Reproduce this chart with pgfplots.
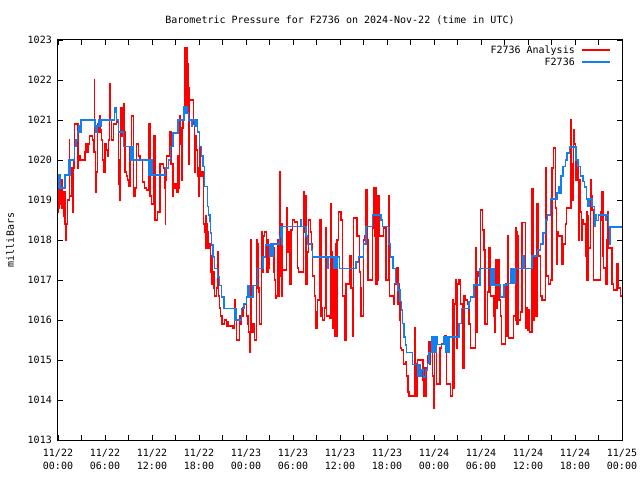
\documentclass[border=0pt]{standalone}
\usepackage{pgfplots}
\pgfplotsset{compat=1.18}
\usepackage{fontspec}
\setmainfont{DejaVu Sans Mono}
\setmonofont{DejaVu Sans Mono}
\definecolor{gpred}{RGB}{255,0,0}
\definecolor{gpblue}{RGB}{16,128,240}
\begin{document}
\begin{tikzpicture}
\path[use as bounding box] (0,0) rectangle (640pt,480pt);
\begin{axis}[
  at={(58pt,40pt)}, anchor=south west,
  width=564pt, height=400pt, scale only axis,
  xmin=0, xmax=72, ymin=1013, ymax=1023,
  font=\fontsize{10}{12}\selectfont,
  axis line style={line width=1pt},
  tick style={black, line width=0.8pt},
  major tick length=5pt, minor tick length=5pt,
  xtick={0,6,...,72}, minor xtick={3,9,...,69},
  xticklabels={{11/22\\00:00},{11/22\\06:00},{11/22\\12:00},{11/22\\18:00},{11/23\\00:00},{11/23\\06:00},{11/23\\12:00},{11/23\\18:00},{11/24\\00:00},{11/24\\06:00},{11/24\\12:00},{11/24\\18:00},{11/25\\00:00}},
  xticklabel style={align=center, inner sep=0pt, yshift=-9pt, font=\fontsize{10}{13}\selectfont},
  ytick={1013,1014,1015,1016,1017,1018,1019,1020,1021,1022,1023},
  yticklabels={1013,1014,1015,1016,1017,1018,1019,1020,1021,1022,1023},
  yticklabel style={inner sep=0pt, xshift=-6pt},
  title={Barometric Pressure for F2736 on 2024-Nov-22 (time in UTC)},
  title style={at={(axis description cs:0.5,1.035)}, anchor=center, inner sep=0pt},
  ylabel={milliBars},
  every axis y label/.style={at={(axis description cs:-0.0851,0.5)}, rotate=90, anchor=center},
]
\addplot[const plot, color=gpred, line width=1.4pt] coordinates {
(0.0,1018.7) (0.1,1019.6) (0.15,1018.8) (0.2,1019.6) (0.3,1018.9) (0.4,1019.5) (0.5,1018.8) (0.6,1019.2)
(0.7,1018.6) (0.8,1019.2) (0.9,1018.4) (1.0,1018.0) (1.1,1018.4) (1.2,1019.0) (1.45,1020.5) (1.5,1019.1)
(1.8,1019.8) (1.9,1018.7) (1.95,1019.8) (2.05,1020.0) (2.1,1020.9) (2.55,1019.8) (2.6,1020.1) (2.8,1020.0)
(3.45,1020.2) (3.6,1020.4) (3.7,1020.2) (3.85,1020.4) (4.0,1020.6) (4.4,1020.5) (4.55,1020.2) (4.64,1022.0)
(4.68,1020.2) (4.75,1019.2) (4.85,1019.7) (5.06,1020.9) (5.25,1020.7) (5.36,1021.1) (5.45,1020.75) (5.57,1020.5)
(5.7,1020.0) (5.8,1019.7) (6.0,1020.4) (6.15,1020.25) (6.3,1020.1) (6.45,1020.5) (6.55,1021.9) (6.6,1021.0)
(6.65,1021.9) (6.7,1021.0) (6.8,1020.5) (7.06,1020.9) (7.5,1020.95) (7.7,1020.0) (7.8,1019.4) (7.9,1019.0)
(8.0,1021.3) (8.1,1020.6) (8.2,1021.3) (8.3,1020.6) (8.4,1021.4) (8.5,1020.7) (8.55,1019.7) (8.77,1019.6)
(8.9,1019.5) (9.0,1019.35) (9.2,1020.3) (9.4,1021.1) (9.65,1019.1) (9.85,1019.3) (10.04,1020.4) (10.26,1020.1)
(10.47,1020.0) (10.77,1019.45) (11.02,1019.3) (11.32,1019.25) (11.53,1020.9) (11.6,1020.1) (11.65,1020.9) (11.74,1019.1)
(11.96,1018.9) (12.26,1020.6) (12.3,1018.6) (12.35,1020.6) (12.4,1018.5) (12.68,1018.7) (13.0,1019.9) (13.45,1019.8)
(13.66,1019.3) (13.7,1018.4) (13.75,1019.5) (13.87,1020.1) (14.3,1020.7) (14.45,1019.9) (14.68,1019.1) (14.76,1019.4)
(14.9,1019.3) (15.0,1019.4) (15.15,1019.2) (15.32,1020.1) (15.4,1019.3) (15.53,1021.1) (15.66,1020.4) (15.75,1019.5)
(15.85,1020.8) (15.95,1021.0) (16.17,1021.3) (16.22,1022.8) (16.3,1021.4) (16.38,1022.8) (16.45,1021.3) (16.52,1022.4)
(16.59,1021.8) (16.7,1019.9) (16.81,1021.5) (17.23,1021.5) (17.3,1020.9) (17.36,1021.0) (17.45,1019.7) (17.55,1020.6)
(17.66,1020.25) (17.8,1019.8) (17.87,1019.6) (17.95,1019.1) (18.08,1020.3) (18.2,1019.6) (18.3,1019.7) (18.51,1019.6)
(18.6,1018.4) (18.72,1018.2) (18.8,1018.6) (18.9,1017.8) (19.0,1018.4) (19.06,1018.2) (19.2,1017.8) (19.36,1017.9)
(19.45,1017.2) (19.57,1017.6) (19.65,1016.9) (19.79,1017.2) (19.9,1016.8) (20.0,1016.6) (20.21,1016.8) (20.42,1017.7)
(20.45,1016.8) (20.51,1016.6) (20.6,1016.3) (20.76,1016.1) (20.93,1015.9) (21.27,1016.0) (21.49,1015.85) (21.6,1015.95)
(21.7,1015.85) (22.34,1015.8) (22.55,1016.5) (22.65,1016.0) (22.76,1015.5) (23.19,1016.1) (23.3,1015.9) (23.4,1016.1)
(23.61,1016.3) (23.83,1016.4) (24.05,1016.1) (24.25,1015.9) (24.35,1015.7) (24.47,1015.2) (24.55,1018.0) (24.62,1016.5)
(24.68,1015.7) (24.89,1015.9) (25.1,1015.5) (25.32,1018.0) (25.4,1017.9) (25.53,1016.8) (25.65,1016.7) (25.74,1015.9)
(25.95,1018.2) (26.1,1017.2) (26.25,1018.1) (26.38,1018.2) (26.6,1017.8) (26.7,1017.2) (26.81,1018.0) (26.9,1017.3)
(27.02,1017.8) (27.45,1017.8) (27.55,1017.2) (27.66,1017.0) (27.75,1016.55) (27.87,1016.6) (28.0,1018.0) (28.09,1016.6)
(28.2,1017.8) (28.34,1019.7) (28.4,1017.1) (28.51,1018.4) (28.6,1016.6) (28.68,1017.25) (29.11,1017.25) (29.15,1018.8)
(29.3,1017.7) (29.41,1018.2) (29.5,1017.7) (29.58,1016.9) (29.75,1018.25) (29.96,1018.5) (30.17,1018.45) (30.55,1017.3)
(30.68,1017.2) (31.36,1019.2) (31.45,1018.2) (31.55,1019.1) (31.66,1016.9) (31.79,1017.7) (31.96,1018.5) (32.21,1018.2)
(32.38,1017.9) (32.51,1017.1) (32.72,1016.6) (32.85,1016.2) (32.94,1015.8) (33.15,1016.5) (33.36,1018.5) (33.58,1016.1)
(33.7,1016.3) (33.79,1016.0) (34.0,1016.3) (34.21,1018.3) (34.3,1016.1) (34.64,1016.05) (34.85,1018.9) (34.95,1017.7)
(35.07,1015.8) (35.15,1017.4) (35.28,1015.6) (35.4,1017.9) (35.49,1015.6) (35.6,1018.0) (35.79,1018.7) (36.13,1018.5)
(36.34,1016.6) (36.56,1015.5) (36.77,1016.9) (37.3,1017.6) (37.4,1016.8) (37.62,1015.6) (37.75,1018.55) (38.17,1018.1)
(38.47,1017.2) (38.6,1016.8) (38.68,1016.1) (39.02,1018.0) (39.2,1018.1) (39.32,1019.25) (39.45,1018.0) (39.55,1017.0)
(40.17,1018.3) (40.3,1019.3) (40.39,1018.1) (40.5,1019.3) (40.6,1016.9) (40.75,1019.1) (40.85,1017.0) (40.95,1019.1)
(41.02,1018.1) (41.58,1018.3) (41.87,1017.0) (42.17,1019.1) (42.3,1018.0) (42.34,1016.6) (42.85,1016.4) (42.94,1016.9)
(43.3,1017.3) (43.4,1016.4) (43.5,1016.9) (43.6,1016.5) (43.67,1016.0) (43.75,1015.3) (43.84,1015.25) (44.09,1014.9)
(44.39,1014.95) (44.5,1014.6) (44.7,1014.2) (44.81,1014.1) (45.54,1014.1) (45.58,1015.8) (45.63,1014.1) (45.71,1014.9)
(45.8,1014.1) (45.88,1015.0) (46.52,1015.0) (46.6,1014.5) (46.7,1014.1) (46.81,1014.8) (46.9,1014.1) (46.99,1014.8)
(47.16,1015.1) (47.37,1015.45) (47.5,1014.9) (47.58,1015.25) (47.79,1014.6) (47.92,1013.8) (48.09,1015.4) (48.35,1014.4)
(48.77,1015.3) (48.94,1015.4) (49.2,1015.5) (49.41,1015.6) (49.62,1014.4) (50.13,1014.1) (50.35,1016.5) (50.5,1014.3)
(50.56,1016.4) (50.77,1017.0) (50.9,1015.3) (50.99,1016.9) (51.2,1017.0) (51.41,1016.4) (51.62,1014.8) (51.84,1016.6)
(52.05,1016.5) (52.26,1016.4) (52.47,1015.9) (52.69,1015.3) (53.33,1017.8) (53.45,1015.7) (53.54,1017.2) (53.75,1017.1)
(53.96,1018.75) (54.18,1018.25) (54.39,1017.75) (54.5,1015.9) (54.81,1016.7) (55.03,1017.8) (55.1,1016.9) (55.17,1017.8)
(55.24,1016.6) (55.67,1016.1) (55.8,1015.7) (55.88,1017.5) (56.0,1016.3) (56.09,1017.5) (56.3,1016.5) (56.52,1016.1)
(56.6,1015.4) (57.16,1016.9) (57.25,1015.6) (57.37,1018.0) (57.42,1015.7) (57.47,1018.1) (57.53,1015.55) (58.17,1016.1)
(58.38,1018.3) (58.45,1016.0) (58.52,1018.2) (58.6,1015.9) (58.7,1018.1) (58.81,1016.0) (59.02,1016.2) (59.23,1018.43)
(59.66,1016.3) (59.72,1015.8) (59.79,1016.3) (59.96,1015.75) (60.09,1016.25) (60.2,1015.7) (60.51,1019.27) (60.64,1016.0)
(60.8,1017.6) (60.94,1016.1) (61.15,1018.9) (61.3,1017.6) (61.58,1016.6) (61.79,1016.5) (62.21,1019.8) (62.3,1017.1)
(62.64,1016.9) (62.85,1017.0) (63.06,1019.8) (63.28,1020.3) (63.49,1018.8) (63.6,1017.4) (63.7,1018.2) (63.92,1018.1)
(64.34,1017.4) (64.55,1017.9) (64.77,1018.4) (64.89,1018.8) (65.49,1021.0) (65.55,1019.9) (65.62,1019.0) (65.83,1020.75)
(65.9,1020.4) (66.04,1020.0) (66.15,1019.5) (66.26,1020.0) (66.47,1018.0) (66.6,1019.5) (66.68,1018.7) (66.8,1018.0)
(66.89,1018.5) (67.11,1018.4) (67.32,1017.6) (67.45,1018.7) (67.53,1017.0) (67.65,1018.6) (67.75,1017.8) (67.96,1019.5)
(68.1,1019.1) (68.17,1018.75) (68.38,1017.0) (69.23,1018.7) (69.35,1018.5) (69.45,1019.2) (69.55,1017.6) (69.66,1017.3)
(69.87,1016.9) (70.09,1018.0) (70.2,1018.7) (70.3,1017.8) (70.72,1016.9) (70.94,1016.75) (71.36,1017.4) (71.57,1016.8)
(71.79,1016.6) (72.0,1016.6)
};
\addplot[const plot, color=gpblue, line width=1.4pt] coordinates {
(0,1019.62) (0.15,1019.3) (0.25,1019.62) (0.34,1019.3) (0.9,1019.62) (1.35,1020.0) (1.45,1019.62) (1.53,1020.0)
(2.1,1020.33) (2.3,1020.5) (2.47,1020.7) (2.6,1020.85) (2.68,1020.7) (2.94,1021.0) (4.72,1020.85) (4.85,1020.7)
(5.0,1020.85) (5.15,1021.0) (5.3,1020.85) (5.4,1021.0) (5.5,1020.85) (5.58,1021.0) (7.19,1021.2) (7.3,1021.3)
(7.49,1021.0) (7.7,1020.7) (8.34,1020.33) (9.32,1020.0) (9.45,1020.33) (9.62,1020.0) (11.53,1019.62) (11.65,1020.0)
(11.8,1019.62) (11.95,1020.0) (12.1,1019.62) (13.74,1019.8) (14.08,1020.0) (14.38,1020.33) (14.68,1020.67) (15.32,1021.0)
(16.09,1021.33) (16.25,1021.17) (16.4,1021.33) (16.55,1021.17) (16.68,1021.0) (17.02,1020.85) (17.2,1021.0) (17.4,1020.85)
(17.6,1021.0) (17.78,1020.7) (18.09,1020.33) (18.3,1020.1) (18.51,1019.83) (18.72,1019.33) (19.06,1018.83) (19.23,1018.62)
(19.4,1018.46) (19.49,1018.17) (19.57,1017.87) (19.79,1017.58) (20.0,1017.29) (20.34,1017.08) (20.64,1016.87) (20.85,1016.58)
(21.19,1016.29) (22.55,1016.0) (22.65,1016.29) (22.8,1016.0) (23.4,1016.29) (23.74,1016.42) (24.04,1016.58) (24.26,1016.87)
(24.47,1016.58) (24.89,1016.87) (25.45,1017.29) (26.17,1017.58) (26.5,1017.87) (27.0,1017.6) (27.2,1017.9) (27.4,1017.6)
(27.5,1017.9) (28.3,1018.08) (28.4,1018.33) (28.51,1017.9) (28.68,1018.33) (30.94,1018.5) (31.1,1018.33) (31.66,1018.1)
(31.87,1017.9) (32.38,1017.75) (32.51,1017.58) (34.43,1017.3) (34.55,1017.58) (35.19,1017.29) (35.3,1017.58) (35.5,1017.29)
(35.6,1017.58) (35.92,1017.29) (38.04,1017.45) (38.34,1017.58) (39.02,1017.9) (39.32,1018.33) (40.17,1018.62) (41.23,1018.5)
(41.45,1018.33) (42.17,1017.9) (42.42,1017.58) (42.77,1017.29) (43.11,1016.92) (43.4,1016.75) (43.66,1016.46) (43.83,1016.25)
(44.0,1015.92) (44.17,1015.58) (44.34,1015.375) (44.51,1015.19) (45.24,1014.89) (45.88,1014.6) (46.0,1014.89) (46.2,1014.6)
(46.4,1014.75) (46.64,1014.58) (46.94,1014.75) (47.15,1014.92) (47.36,1015.19) (47.66,1015.58) (47.8,1015.19) (47.95,1015.58)
(48.1,1015.19) (48.25,1015.58) (48.43,1015.39) (49.28,1015.58) (49.45,1015.19) (49.6,1015.58) (49.75,1015.19) (49.9,1015.58)
(51.19,1015.92) (51.53,1016.29) (52.47,1016.46) (52.68,1016.58) (53.1,1016.875) (53.87,1017.29) (55.24,1016.875) (55.4,1017.29)
(55.66,1016.875) (56.51,1016.58) (56.94,1016.875) (57.36,1016.92) (57.83,1017.29) (57.95,1016.92) (58.1,1017.29) (58.25,1016.92)
(58.4,1017.29) (59.36,1017.6) (59.5,1017.29) (60.51,1017.6) (61.23,1017.75) (61.58,1017.9) (61.92,1018.17) (62.22,1018.5)
(62.51,1018.625) (62.85,1019.02) (63.71,1019.17) (63.92,1019.32) (64.0,1019.17) (64.22,1019.6) (64.47,1019.83) (64.77,1020.0)
(64.98,1020.17) (65.28,1020.32) (66.13,1020.0) (66.39,1019.83) (66.68,1019.6) (67.02,1019.46) (67.24,1019.32) (67.45,1019.02)
(67.66,1018.83) (67.8,1019.02) (68.17,1018.83) (68.46,1018.33) (68.6,1018.62) (68.72,1018.48) (69.02,1018.625) (69.87,1018.48)
(70.0,1018.625) (70.3,1018.33) (70.45,1017.9) (70.51,1018.32) (72.0,1018.32)
};
\end{axis}
\node[anchor=base east, inner sep=0pt, font=\fontsize{10}{12}\selectfont] at (575pt,426.5pt) {F2736 Analysis};
\node[anchor=base east, inner sep=0pt, font=\fontsize{10}{12}\selectfont] at (575pt,414.5pt) {F2736};
\draw[gpred, line width=1.4pt] (582pt,430pt) -- (610pt,430pt);
\draw[gpblue, line width=1.4pt] (582pt,418pt) -- (610pt,418pt);
\end{tikzpicture}
\end{document}
